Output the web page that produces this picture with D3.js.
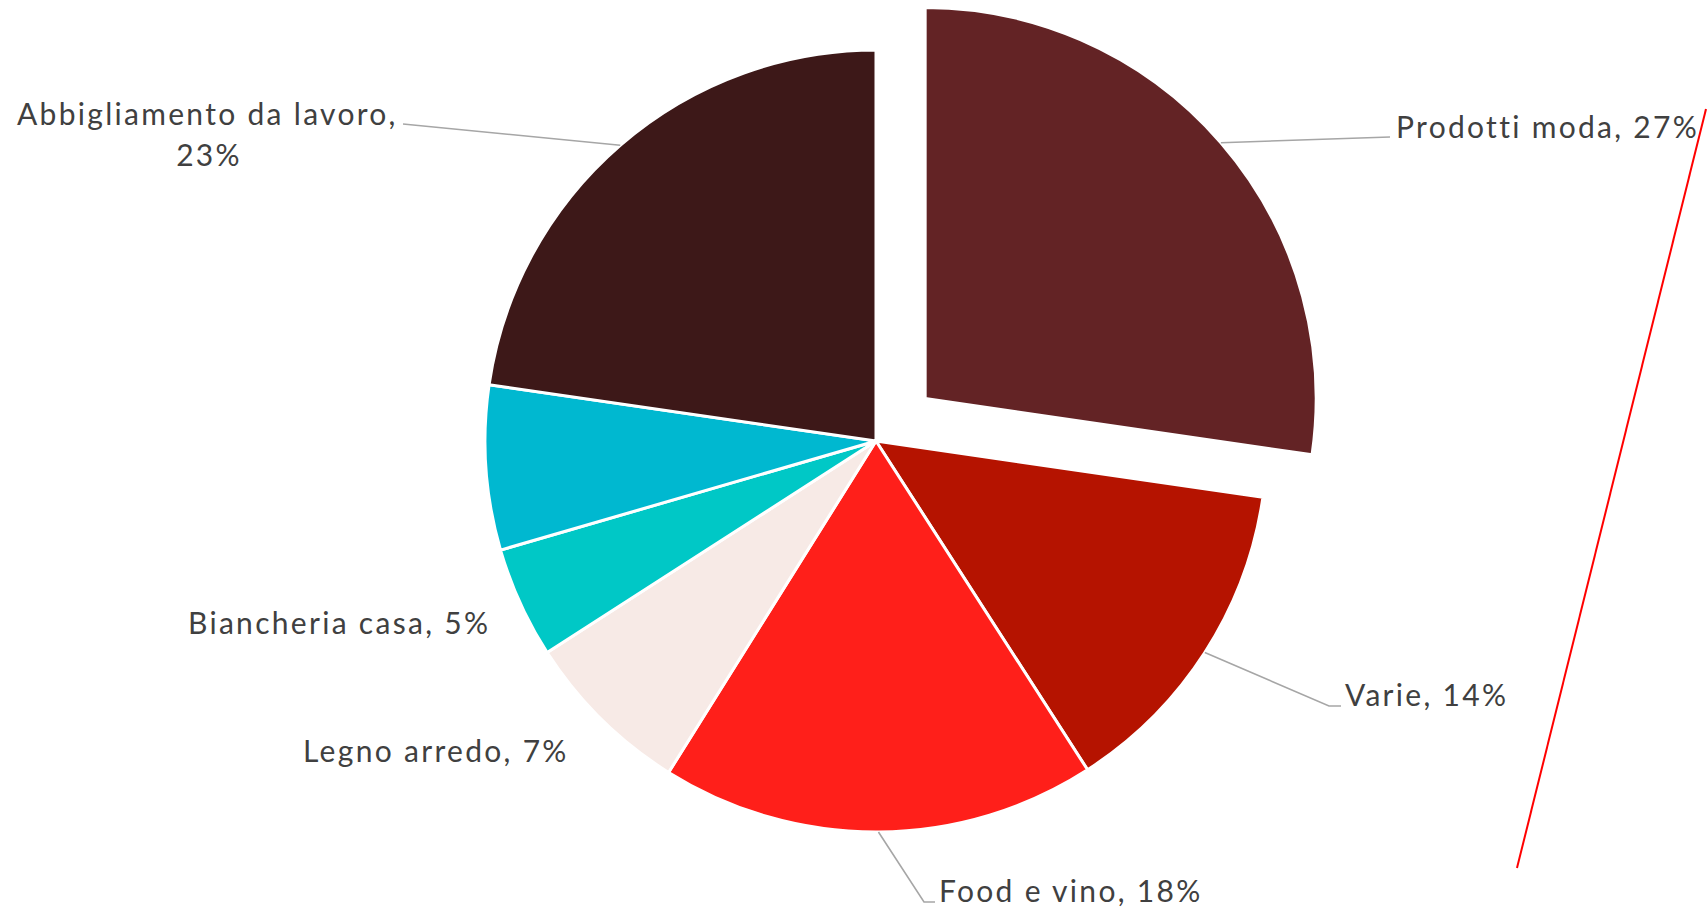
<!DOCTYPE html>
<html>
<head>
<meta charset="utf-8">
<script src="https://cdn.jsdelivr.net/npm/d3@7"></script>
<style>
body{margin:0;background:#fff;}
text{font-family:Lato,"Open Sans",sans-serif;fill:#404040;letter-spacing:2.3px;}
</style>
</head>
<body>
<script>
var width = 1708, height = 909;

// data (clockwise from 12 o'clock)
var categories = ["Prodotti moda","Varie","Food e vino","Legno arredo","Biancheria casa","Altro","Abbigliamento da lavoro"];
var values = [27.3, 13.6, 18, 7, 4.6, 6.8, 22.7];
var shownPct = ["27%","14%","18%","7%","5%","","23%"];
var colors = ["#632325","#B51300","#FF1F1A","#F7EAE6","#00C8C6","#00B8D0","#3D1818"];

var cx = 876, cy = 441, radius = 391, explode = 65;

var svg = d3.select("body").append("svg")
            .attr("width", width)
            .attr("height", height);

var pie = d3.pie().sort(null).value(function(d){return d;});
var arcs = pie(values);
var arc = d3.arc().innerRadius(0).outerRadius(radius);

function midAngle(d){ return (d.startAngle + d.endAngle)/2; }
function offset(d,i){
    // only first slice is pulled out
    var r = i == 0 ? explode : 0;
    var a = midAngle(d);
    return [Math.sin(a)*r, -Math.cos(a)*r];
}

var g = svg.append("g").attr("transform","translate("+[cx,cy]+")");

g.selectAll("path.slice")
 .data(arcs)
 .enter()
 .append("path")
 .attr("class","slice")
 .attr("d", arc)
 .attr("transform", function(d,i){ return "translate("+offset(d,i)+")"; })
 .style("fill", function(d,i){ return colors[i]; })
 .style("stroke","#fff")
 .style("stroke-width",3)
 .style("stroke-linejoin","round");

// label placement (page coords), manual like the original chart
var labelAt = [
    {x:1396, y:138, anchor:"start", leader:[[1390,137]]},
    {x:1345, y:706, anchor:"start", leader:[[1329,706],[1341,706]]},
    {x:939,  y:902, anchor:"start", leader:[[924,902],[935,902]]},
    {x:303,  y:762, anchor:"start", leader:null},
    {x:188,  y:634, anchor:"start", leader:null},
    null,
    {x:17,   y:125, anchor:"start", leader:[[403,124]], wrap:{x:209, y:166}}
];

var lineGen = d3.line();

arcs.forEach(function(d,i){
    var L = labelAt[i];
    if(!L) return;
    var off = offset(d,i);
    var a = midAngle(d);
    var start = [cx + off[0] + Math.sin(a)*radius, cy + off[1] - Math.cos(a)*radius];
    if(L.leader){
        svg.append("path")
           .attr("d", lineGen([start].concat(L.leader)))
           .style("fill","none")
           .style("stroke","#A6A6A6")
           .style("stroke-width",1.6);
    }
    var t = svg.append("text")
               .attr("x", L.x)
               .attr("y", L.y)
               .attr("text-anchor", L.anchor)
               .style("font-size","30px");
    if(L.wrap){
        t.text(categories[i] + ",");
        svg.append("text")
           .attr("x", L.wrap.x)
           .attr("y", L.wrap.y)
           .attr("text-anchor","middle")
           .style("font-size","30px")
           .text(shownPct[i]);
    } else {
        t.text(categories[i] + ", " + shownPct[i]);
    }
});

// stray red line at the right side of the original slide
svg.append("line")
   .attr("x1",1706).attr("y1",109)
   .attr("x2",1517).attr("y2",868)
   .style("stroke","#FF0000")
   .style("stroke-width",2);
</script>
</body>
</html>
